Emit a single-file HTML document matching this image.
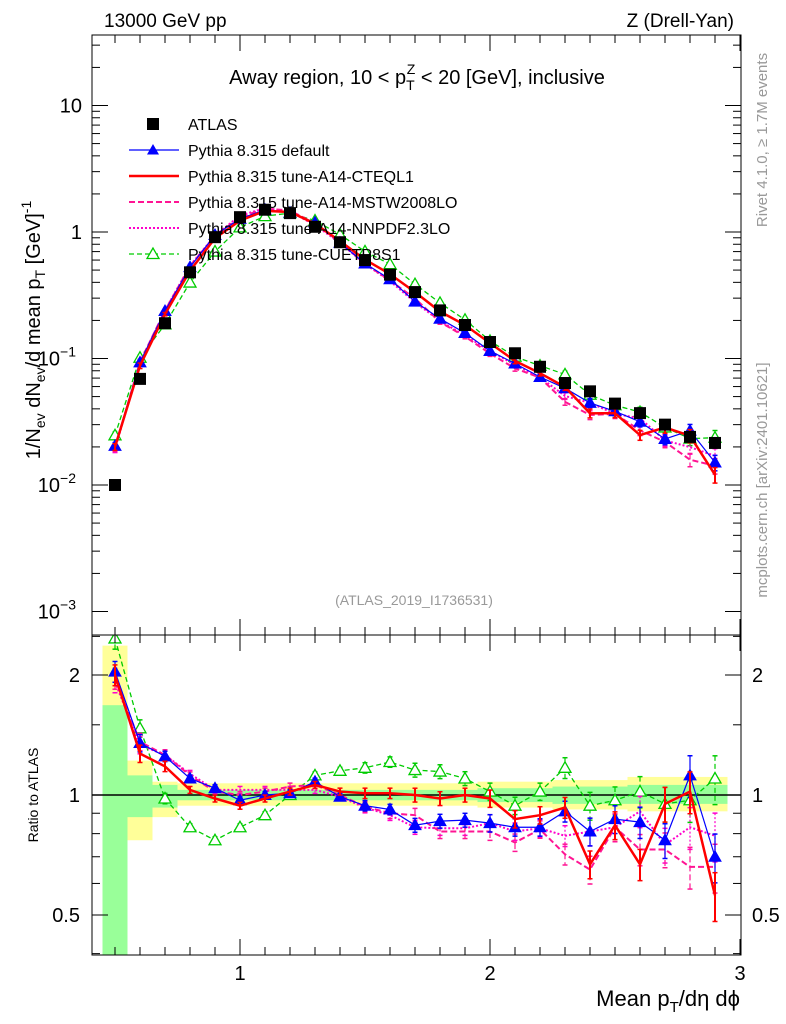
<!DOCTYPE html>
<html><head><meta charset="utf-8"><style>
body{margin:0;background:#fff}
svg{display:block;font-family:"Liberation Sans",sans-serif}
</style></head><body>
<svg id="c" width="786" height="1024" viewBox="0 0 786 1024" xmlns="http://www.w3.org/2000/svg"></svg>
<script>
const xs=[0.5,0.6,0.7,0.8,0.9,1.0,1.1,1.2,1.3,1.4,1.5,1.6,1.7,1.8,1.9,2.0,2.1,2.2,2.3,2.4,2.5,2.6,2.7,2.8,2.9];
const atlas=[0.010,0.069,0.19,0.48,0.91,1.31,1.50,1.41,1.10,0.83,0.60,0.46,0.335,0.24,0.184,0.135,0.110,0.086,0.064,0.055,0.044,0.037,0.030,0.024,0.0215];
const rDefault=[2.04,1.35,1.25,1.10,1.04,0.97,1.0,1.01,1.08,0.99,0.94,0.92,0.84,0.86,0.865,0.85,0.83,0.83,0.91,0.81,0.87,0.855,0.77,1.12,0.70];
const rCTEQ=[2.0,1.27,1.18,1.03,0.98,0.94,0.98,1.02,1.06,1.02,1.01,1.01,1.0,0.98,1.0,0.98,0.87,0.89,0.93,0.67,0.84,0.67,0.95,1.02,0.56];
const rMSTW=[1.96,1.36,1.26,1.12,1.02,1.0,1.02,1.05,1.06,1.0,0.935,0.90,0.89,0.81,0.81,0.81,0.76,0.82,0.71,0.65,0.83,0.73,0.73,0.66,0.66];
const rNNPDF=[1.92,1.335,1.26,1.13,1.03,1.03,1.03,1.03,1.03,0.99,0.93,0.89,0.83,0.825,0.825,0.85,0.81,0.825,0.79,0.81,0.83,0.91,0.75,0.83,0.79];
const rCUETP=[2.47,1.47,0.98,0.83,0.77,0.83,0.89,1.0,1.12,1.15,1.17,1.21,1.155,1.145,1.10,1.02,0.94,1.02,1.17,0.94,0.97,1.02,0.95,0.97,1.10];
const relErr=[0.06,0.05,0.03,0.02,0.02,0.02,0.02,0.02,0.02,0.02,0.03,0.03,0.04,0.04,0.04,0.05,0.05,0.05,0.06,0.08,0.08,0.09,0.1,0.12,0.14];
const yelHi=[2.37,1.22,1.08,1.07,1.07,1.07,1.07,1.07,1.07,1.07,1.07,1.07,1.07,1.07,1.07,1.08,1.08,1.08,1.09,1.09,1.09,1.11,1.11,1.11,1.11];
const yelLo=[0.3,0.77,0.88,0.94,0.94,0.94,0.94,0.94,0.94,0.94,0.94,0.94,0.94,0.94,0.94,0.93,0.93,0.93,0.92,0.92,0.92,0.91,0.91,0.91,0.91];
const grnHi=[1.68,1.12,1.06,1.03,1.03,1.03,1.03,1.03,1.03,1.03,1.03,1.03,1.03,1.03,1.03,1.04,1.04,1.04,1.05,1.05,1.05,1.06,1.06,1.06,1.06];
const grnLo=[0.3,0.88,0.93,0.97,0.97,0.97,0.97,0.97,0.97,0.97,0.97,0.97,0.97,0.97,0.97,0.96,0.96,0.96,0.95,0.95,0.95,0.95,0.95,0.95,0.95];
const yTicks=[[10,"10",""],[1,"1",""],[0.1,"10","−1"],[0.01,"10","−2"],[0.001,"10","−3"]];
const rTicks=[2,1,0.5];

const NS="http://www.w3.org/2000/svg",svg=document.getElementById('c');
const L=92,R=741,T=35,M=635,B=955;
const X=v=>240+250*(v-1);
const Y=v=>232-126.5*Math.log10(v);
const RY=v=>795-120*Math.log2(v);
function el(tag,attrs,parent){const e=document.createElementNS(NS,tag);for(const k in attrs)e.setAttribute(k,attrs[k]);(parent||svg).appendChild(e);return e;}
function txt(s,x,y,size,anchor,parent,fill){const t=el('text',{x:x,y:y,'font-size':size,'text-anchor':anchor||'start',fill:fill||'#000'},parent);t.textContent=s;return t;}
const defs=el('defs',{});
const c1=el('clipPath',{id:'cm'},defs);el('rect',{x:L,y:T,width:R-L,height:M-T},c1);
const c2=el('clipPath',{id:'cr'},defs);el('rect',{x:L,y:M,width:R-L,height:B-M},c2);

const gb=el('g',{'clip-path':'url(#cr)'});


xs.forEach((x,i)=>{
 const x0=X(x-0.05),w=X(x+0.05)-x0;
 const y1=el('rect',{x:x0,y:RY(yelHi[i]),width:w,height:RY(yelLo[i])-RY(yelHi[i]),fill:'#ffff99'},gb);
 
 
 const g1=el('rect',{x:x0,y:RY(grnHi[i]),width:w,height:RY(grnLo[i])-RY(grnHi[i]),fill:'#99ff99'},gb);
 
 
});
el('line',{x1:L,x2:R,y1:RY(1),y2:RY(1),stroke:'#000','stroke-width':1.5},gb);

const series=[
 {name:'cuetp8s1',r:rCUETP,col:'#00cc00',w:1.3,dash:'5,3',mk:'open'},
 {name:'nnpdf',r:rNNPDF,col:'#ff00cc',w:2,dash:'2,2',mk:'none'},
 {name:'mstw',r:rMSTW,col:'#ff1493',w:2,dash:'6,3',mk:'none'},
 {name:'default',r:rDefault,col:'#0000ff',w:1.2,dash:'',mk:'tri'},
 {name:'cteql1',r:rCTEQ,col:'#ff0000',w:2.5,dash:'',mk:'none'},
];
function tri(g,x,y,col,open){const p=`${x},${y-6} ${x-6},${y+4.5} ${x+6},${y+4.5}`;return el('polygon',{points:p,fill:open?'#fff':col,stroke:col,'stroke-width':open?1.3:1},g);}
function drawSeries(s,main){
 const g=el('g',{'clip-path':main?'url(#cm)':'url(#cr)'});
 
 
 const vals=xs.map((x,i)=>main?atlas[i]*s.r[i]:s.r[i]);
 const yf=main?Y:RY;
 xs.forEach((x,i)=>{const v=vals[i],e=v*relErr[i];
  el('line',{x1:X(x),x2:X(x),y1:yf(v+e),y2:yf(Math.max(v-e,1e-4)),stroke:s.col,'stroke-width':s.w>2?2:1.2,'stroke-dasharray':s.dash},g);
  [v+e,Math.max(v-e,1e-4)].forEach(q=>el('line',{x1:X(x)-2.5,x2:X(x)+2.5,y1:yf(q),y2:yf(q),stroke:s.col,'stroke-width':1.5},g));
 });
 const pl=el('polyline',{points:xs.map((x,i)=>X(x)+','+yf(vals[i])).join(' '),fill:'none',stroke:s.col,'stroke-width':s.w,'stroke-dasharray':s.dash},g);
 
 
 if(s.mk!=='none')xs.forEach((x,i)=>{const m=tri(g,X(x),yf(vals[i]),s.col,s.mk==='open');
  
  });
}
series.forEach(s=>drawSeries(s,true));
series.forEach(s=>drawSeries(s,false));
const ga=el('g',{'clip-path':'url(#cm)'});


xs.forEach((x,i)=>{const r=el('rect',{x:X(x)-6,y:Y(atlas[i])-6,width:12,height:12,fill:'#000'},ga);
 
 });

const ax=el('g',{stroke:'#000','stroke-width':1,fill:'none'});


el('rect',{x:L,y:T,width:R-L,height:M-T},ax);
el('rect',{x:L,y:M,width:R-L,height:B-M},ax);
for(let v=0.5;v<=3.001;v+=0.1){const x=X(v),maj=Math.abs(v-Math.round(v))<0.01,len=maj?16:8;
 [[T,1],[M,-1],[M,1],[B,-1]].forEach(([y,d])=>el('line',{x1:x,x2:x,y1:y,y2:y+d*len},ax));}
for(let d=-3;d<=1;d++)for(let k=1;k<10;k++){const v=k*Math.pow(10,d),y=Y(v);if(y<T||y>M)continue;const len=k===1?16:8;
 el('line',{x1:L,x2:L+len,y1:y,y2:y},ax);el('line',{x1:R,x2:R-len,y1:y,y2:y},ax);}
[0.4,0.5,0.6,0.7,0.8,0.9,1,1.5,2,2.5].forEach(v=>{const y=RY(v);if(y<M||y>B)return;const len=(v===0.5||v===1||v===2)?16:8;
 el('line',{x1:L,x2:L+len,y1:y,y2:y},ax);el('line',{x1:R,x2:R-len,y1:y,y2:y},ax);});

yTicks.forEach(([v,b,e])=>{const t=txt(b,e?76:82,Y(v)+7,20,'end');
 if(e){const s=el('tspan',{dy:-9,'font-size':14},t);s.textContent=e;}
 
 });
rTicks.forEach(v=>{const a=txt(String(v),80,RY(v)+7,20,'end');
 const b=txt(String(v),752,RY(v)+7,20,'start');});
[1,2,3].forEach(v=>{const t=txt(String(v),X(v),980,20,'middle');});
</script>
<svg width="786" height="1024" style="position:absolute;left:0;top:0" xmlns="http://www.w3.org/2000/svg" font-family="Liberation Sans, sans-serif">
<text x="104" y="27" font-size="19">13000 GeV pp</text>
<text x="734" y="27" font-size="19" text-anchor="end">Z (Drell-Yan)</text>
<text x="417" y="84" font-size="20" text-anchor="middle">Away region, 10 &lt; p<tspan font-size="14" dy="6">T</tspan><tspan font-size="14" dx="-8" dy="-16">Z</tspan><tspan dy="10"> &lt; 20 [GeV], inclusive</tspan></text>
<g font-size="16">
<rect x="147" y="118" width="12" height="12" fill="#000"/>
<text x="188" y="130">ATLAS</text>
<line x1="129" x2="179" y1="150" y2="150" stroke="#0000ff" stroke-width="1.2"/><polygon points="153,144 147,154.5 159,154.5" fill="#0000ff"/>
<text x="188" y="156">Pythia 8.315 default</text>
<line x1="129" x2="179" y1="176" y2="176" stroke="#ff0000" stroke-width="2.5"/>
<text x="188" y="182">Pythia 8.315 tune-A14-CTEQL1</text>
<line x1="129" x2="179" y1="202" y2="202" stroke="#ff1493" stroke-width="2" stroke-dasharray="6,3"/>
<text x="188" y="208">Pythia 8.315 tune-A14-MSTW2008LO</text>
<line x1="129" x2="179" y1="228" y2="228" stroke="#ff00cc" stroke-width="2" stroke-dasharray="2,2"/>
<text x="188" y="234">Pythia 8.315 tune-A14-NNPDF2.3LO</text>
<line x1="129" x2="179" y1="254" y2="254" stroke="#00cc00" stroke-width="1.3" stroke-dasharray="5,3"/><polygon points="153,248 147,258.5 159,258.5" fill="#fff" stroke="#00cc00" stroke-width="1.3"/>
<text x="188" y="260">Pythia 8.315 tune-CUETP8S1</text>
</g>
<text x="414" y="605" font-size="14" fill="#999" text-anchor="middle">(ATLAS_2019_I1736531)</text>
<text transform="translate(767,140) rotate(-90)" font-size="15" fill="#999" text-anchor="middle">Rivet 4.1.0, ≥ 1.7M events</text>
<text transform="translate(767,480) rotate(-90)" font-size="15" fill="#999" text-anchor="middle">mcplots.cern.ch [arXiv:2401.10621]</text>
<text transform="translate(40,330) rotate(-90)" font-size="20" text-anchor="middle">1/N<tspan font-size="14" dy="5">ev</tspan><tspan dy="-5"> dN</tspan><tspan font-size="14" dy="5">ev</tspan><tspan dy="-5">/d mean p</tspan><tspan font-size="14" dy="5">T</tspan><tspan dy="-5"> [GeV]</tspan><tspan font-size="14" dy="-9">-1</tspan></text>
<text transform="translate(38,795) rotate(-90)" font-size="14" text-anchor="middle">Ratio to ATLAS</text>
<text x="740" y="1006" font-size="22" text-anchor="end">Mean p<tspan font-size="15" dy="6">T</tspan><tspan dy="-6">/dη dϕ</tspan></text>
</svg>
</body></html>
